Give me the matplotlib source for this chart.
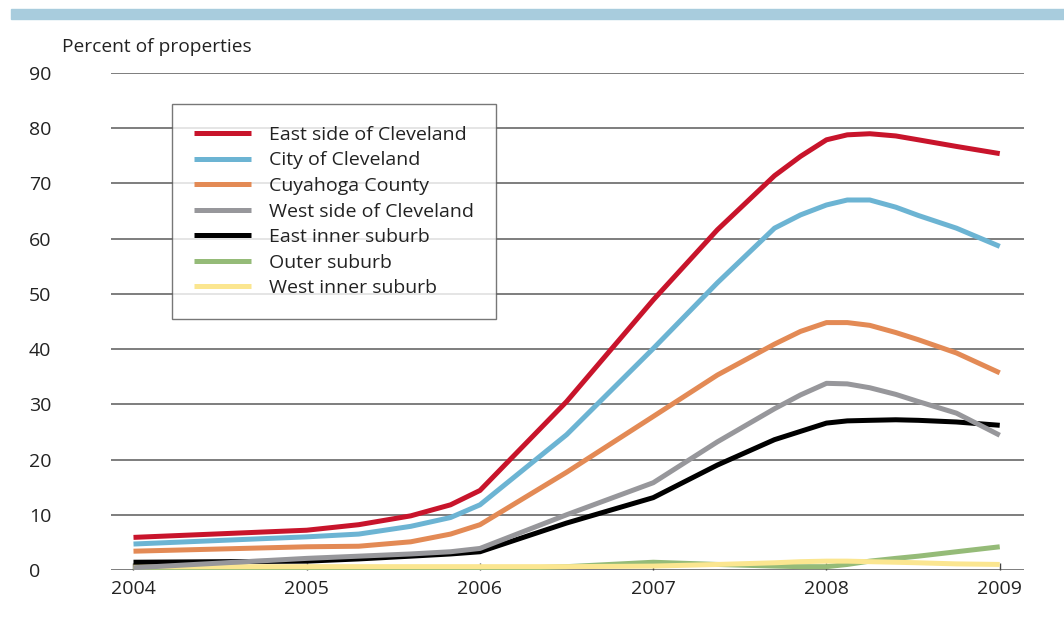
import matplotlib.pyplot as plt
from matplotlib.patches import Rectangle

plt.rcParams["font.family"] = ["Open Sans", "DejaVu Sans"]

# ====================== data ======================
years = [2004, 2005, 2005.3, 2005.6, 2005.83, 2006, 2006.5, 2007,
         2007.37, 2007.7, 2007.85, 2008, 2008.12, 2008.25, 2008.4, 2008.53, 2008.75, 2009]

east_side = [5.9, 7.2, 8.2, 9.8, 11.8, 14.4, 30.5, 48.9, 61.6, 71.4, 74.9, 77.9, 78.8, 79.0, 78.6, 77.9, 76.7, 75.4]
city = [4.7, 6.0, 6.5, 7.9, 9.5, 11.8, 24.5, 40.1, 52.0, 61.9, 64.3, 66.1, 67.0, 67.0, 65.7, 64.2, 61.9, 58.6]
county = [3.4, 4.2, 4.3, 5.1, 6.5, 8.2, 17.7, 27.8, 35.3, 40.9, 43.2, 44.8, 44.8, 44.3, 43.0, 41.7, 39.3, 35.7]
west_side = [0.4, 2.1, 2.5, 2.9, 3.3, 3.9, 10.0, 15.8, 23.2, 29.2, 31.7, 33.8, 33.7, 33.0, 31.8, 30.5, 28.4, 24.4]
east_inner = [1.4, 1.6, 2.0, 2.5, 2.9, 3.3, 8.5, 13.1, 19.0, 23.6, 25.1, 26.6, 27.0, 27.1, 27.2, 27.1, 26.8, 26.2]
outer = [0.1, 0.1, 0.1, 0.1, 0.1, 0.1, 0.6, 1.4, 1.0, 0.7, 0.6, 0.6, 1.0, 1.6, 2.1, 2.5, 3.3, 4.2]
west_inner = [0.6, 0.6, 0.6, 0.6, 0.6, 0.6, 0.6, 0.7, 1.0, 1.3, 1.5, 1.6, 1.6, 1.5, 1.4, 1.3, 1.1, 1.0]

labels = ["East side of Cleveland", "City of Cleveland", "Cuyahoga County",
          "West side of Cleveland", "East inner suburb", "Outer suburb",
          "West inner suburb"]
series = [east_side, city, county, west_side, east_inner, outer, west_inner]
colors = ["#C8142B", "#6CB4D3", "#E38A55", "#97979B", "#000000", "#95BB78", "#FBE690"]
# drawing order: bottom first
draw_order = [5, 6, 4, 3, 2, 1, 0]

x_ticks = [2004, 2005, 2006, 2007, 2008, 2009]
y_ticks = list(range(0, 100, 10))

# ====================== figure ======================
fig = plt.figure(figsize=(10.64, 6.26), dpi=100)
ax = fig.add_axes([0.1043, 0.0895, 0.8581, 0.7939])

# light blue band along the top
fig.patches.append(Rectangle((0.0103, 1 - 19 / 626), 0.99, 10 / 626,
                             transform=fig.transFigure, color="#A8CCDD", zorder=0))

lines = {}
for i in draw_order:
    ln, = ax.plot(years, series[i], color=colors[i], linewidth=3.6,
                  solid_capstyle="butt", solid_joinstyle="round", zorder=3 + draw_order.index(i))
    lines[i] = ln

ax.set_xlim(2003.87, 2009.14)
ax.set_ylim(0, 90)
ax.set_yticks(y_ticks)
ax.set_xticks(x_ticks)
ax.set_xticklabels([str(y) for y in x_ticks])
for y in y_ticks:
    ax.axhline(y, color="#5a5a5a", linewidth=1.1, zorder=1)

for s in ax.spines.values():
    s.set_visible(False)
ax.tick_params(axis="y", length=0, pad=25, labelsize=14, colors="#222222")
ax.tick_params(axis="x", direction="in", length=5, width=1, color="#444444",
               pad=7, labelsize=14, labelcolor="#222222")
for lab in ax.get_yticklabels():
    lab.set_horizontalalignment("left")
    lab.set_x(-0.052)

fig.text(0.0585, 1 - 47 / 626, "Percent of properties", fontsize=13.8,
         color="#222222", va="center", ha="left")

leg = ax.legend([lines[i] for i in range(7)], labels, loc="upper left",
                bbox_to_anchor=(172 / 1064, 1 - 104 / 626), bbox_transform=fig.transFigure,
                fontsize=14, frameon=True, fancybox=False, edgecolor="#555555",
                handlelength=2.95, handletextpad=0.93, labelspacing=0.39,
                borderpad=1.12, borderaxespad=0)
leg.get_frame().set_linewidth(1.0)
for t in leg.get_texts():
    t.set_color("#222222")
leg.set_zorder(10)

fig.savefig("out.png", dpi=100)
